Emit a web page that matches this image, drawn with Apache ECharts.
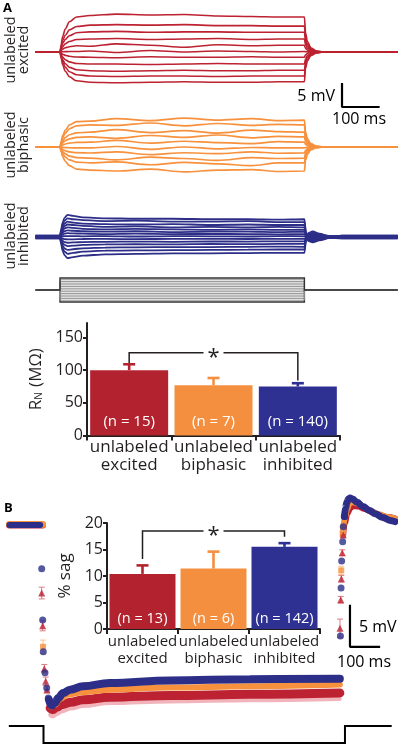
<!DOCTYPE html>
<html>
<head>
<meta charset="utf-8">
<script src="https://cdn.jsdelivr.net/npm/echarts@6.0.0/dist/echarts.min.js"></script>
<style>
  html, body { margin: 0; padding: 0; background: #fff; }
  #fig { width: 398px; height: 745px; }
</style>
</head>
<body>
<div id="fig"></div>
<script>
// ---- panel A : voltage traces (ms, mV) ----
var traceTimesA = [-65, 0, 3, 7, 14, 25, 44, 80, 150, 240, 330, 420, 510, 580, 650, 653, 658, 667, 682, 700, 898];
var excitedTraces = [
  [0, 0, 1.5, 3.2, 4.8, 6.3, 7.3, 7.6, 7.9, 7.7, 7.8, 7.5, 7.4, 7.3, 7.3, 4.0, 2.2, 0.9, 0.2, 0, 0],
  [0, 0, 1.1, 2.4, 3.5, 4.6, 5.3, 5.6, 5.7, 5.6, 5.7, 5.5, 5.5, 5.4, 5.4, 3.0, 1.6, 0.65, 0.15, 0, 0],
  [0, 0, 0.8, 1.8, 2.6, 3.4, 4.0, 4.2, 4.3, 4.1, 4.2, 4.2, 4.1, 4.1, 4.1, 2.2, 1.2, 0.5, 0.1, 0, 0],
  [0, 0, 0.55, 1.1, 1.7, 2.2, 2.6, 2.7, 2.8, 2.6, 2.7, 2.8, 2.6, 2.7, 2.7, 1.5, 0.8, 0.3, 0.08, 0, 0],
  [0, 0, 0.3, 0.6, 0.9, 1.1, 1.3, 1.2, 1.7, 1.4, 1.0, 1.5, 1.3, 1.4, 1.4, 0.75, 0.4, 0.16, 0.04, 0, 0],
  [0, 0, 0.02, 0.05, 0.07, 0.09, 0.1, 0.2, -0.1, 0.3, 0, 0.2, 0.1, 0, 0.1, 0.05, 0.03, 0.01, 0, 0, 0],
  [0, 0, -0.22, -0.46, -0.7, -0.9, -1.05, -1.1, -1.2, -1.0, -1.1, -1.1, -1.0, -1.1, -1.1, -0.6, -0.33, -0.13, -0.03, 0, 0],
  [0, 0, -0.5, -1.05, -1.6, -2.05, -2.4, -2.5, -2.5, -2.6, -2.5, -2.4, -2.5, -2.5, -2.5, -1.4, -0.75, -0.3, -0.08, 0, 0],
  [0, 0, -0.78, -1.64, -2.46, -3.2, -3.7, -3.9, -4.0, -3.9, -3.8, -3.9, -3.9, -3.8, -3.8, -2.1, -1.14, -0.46, -0.11, 0, 0],
  [0, 0, -1.0, -2.1, -3.15, -4.1, -4.75, -5.0, -5.1, -5.0, -5.0, -5.1, -5.0, -5.0, -5.0, -2.75, -1.5, -0.6, -0.15, 0, 0],
  [0, 0, -1.26, -2.65, -4.0, -5.15, -6.0, -6.3, -6.4, -6.3, -6.2, -6.3, -6.3, -6.2, -6.2, -3.4, -1.86, -0.75, -0.19, 0, 0]
];
var biphasicTraces = [
  [0, 0, 1.1, 2.35, 3.5, 4.6, 5.3, 5.4, 5.9, 5.5, 6.0, 5.6, 5.9, 5.5, 5.6, 3.1, 1.7, 0.7, 0.15, 0, 0],
  [0, 0, 0.9, 1.9, 2.9, 3.8, 4.4, 4.6, 4.5, 5.0, 4.4, 4.9, 4.5, 4.7, 4.6, 2.5, 1.4, 0.55, 0.12, 0, 0],
  [0, 0, 0.62, 1.3, 1.95, 2.55, 2.95, 3.1, 3.6, 3.0, 3.4, 2.9, 3.5, 3.2, 3.1, 1.7, 0.93, 0.37, 0.09, 0, 0],
  [0, 0, 0.42, 0.88, 1.3, 1.7, 2.0, 2.1, 1.8, 2.4, 2.0, 2.5, 1.9, 2.2, 2.1, 1.15, 0.63, 0.25, 0.06, 0, 0],
  [0, 0, 0.2, 0.42, 0.63, 0.82, 0.95, 1.0, 1.4, 0.8, 1.2, 0.9, 0.7, 1.1, 1.0, 0.55, 0.3, 0.12, 0.03, 0, 0],
  [0, 0, -0.04, -0.08, -0.12, -0.16, -0.2, -0.2, 0.1, -0.5, 0, -0.4, -0.1, -0.2, -0.2, -0.1, -0.06, -0.02, 0, 0, 0],
  [0, 0, -0.25, -0.52, -0.79, -1.02, -1.19, -1.25, -1.0, -1.6, -1.2, -1.4, -1.0, -1.3, -1.25, -0.7, -0.38, -0.15, -0.04, 0, 0],
  [0, 0, -0.46, -0.97, -1.45, -1.9, -2.2, -2.3, -2.7, -2.1, -2.4, -2.8, -2.2, -2.4, -2.3, -1.27, -0.69, -0.28, -0.07, 0, 0],
  [0, 0, -0.66, -1.4, -2.1, -2.7, -3.15, -3.3, -3.1, -3.7, -3.2, -3.5, -3.9, -3.3, -3.3, -1.8, -1.0, -0.4, -0.1, 0, 0],
  [0, 0, -0.96, -2.0, -3.0, -3.9, -4.6, -4.8, -5.0, -4.6, -5.2, -4.8, -4.7, -5.1, -5.0, -2.75, -1.5, -0.6, -0.15, 0, 0]
];
var inhibitedTimes = [-65, 0, 3, 7, 12, 20, 35, 60, 120, 200, 300, 400, 500, 580, 650, 654, 660, 672, 690, 715, 750, 898];
var inhibitedTraces = [
  [0.3, 0.3, 1.6, 3.0, 4.0, 4.6, 4.4, 4.1, 3.9, 3.8, 3.8, 3.7, 3.7, 3.6, 3.7, 1.0, -0.8, -1.1, -0.7, -0.25, 0.3, 0.3],
  [-0.2, -0.2, 1.4, 2.5, 3.4, 3.9, 3.7, 3.5, 3.3, 3.4, 3.2, 3.2, 3.3, 3.1, 3.1, 0.9, -0.7, -0.95, -0.6, -0.2, -0.2, -0.2],
  [0.1, 0.1, 1.1, 2.1, 2.8, 3.2, 3.0, 2.8, 2.7, 2.6, 2.7, 2.5, 2.6, 2.5, 2.5, 0.7, -0.55, -0.8, -0.5, -0.15, 0.1, 0.1],
  [-0.3, -0.3, 0.9, 1.7, 2.3, 2.6, 2.5, 2.3, 2.1, 2.2, 2.0, 2.1, 2.0, 2.1, 2.0, 0.55, -0.45, -0.65, -0.4, -0.12, -0.3, -0.3],
  [0.25, 0.25, 0.7, 1.3, 1.8, 2.0, 1.9, 1.7, 1.6, 1.7, 1.6, 1.5, 1.6, 1.5, 1.5, 0.45, -0.35, -0.5, -0.3, -0.1, 0.25, 0.25],
  [-0.1, -0.1, 0.5, 0.9, 1.2, 1.4, 1.3, 1.2, 1.1, 1.2, 1.0, 1.1, 1.1, 1.0, 1.1, 0.3, -0.25, -0.35, -0.2, -0.07, -0.1, -0.1],
  [0.2, 0.2, 0.3, 0.5, 0.7, 0.8, 0.75, 0.7, 0.6, 0.7, 0.6, 0.65, 0.6, 0.55, 0.6, 0.17, -0.14, -0.2, -0.12, -0.04, 0.2, 0.2],
  [-0.25, -0.25, 0.07, 0.13, 0.18, 0.2, 0.2, 0.15, 0.2, 0.1, 0.2, 0.15, 0.1, 0.2, 0.15, 0.05, -0.03, -0.05, -0.03, 0, -0.25, -0.25],
  [0.05, 0.05, -0.17, -0.33, -0.44, -0.5, -0.48, -0.42, -0.4, -0.45, -0.38, -0.4, -0.42, -0.38, -0.4, -0.11, 0.09, 0.12, 0.08, 0.03, 0.05, 0.05],
  [0.3, 0.3, -0.42, -0.8, -1.05, -1.2, -1.14, -1.05, -1.0, -0.95, -1.0, -0.92, -0.95, -0.9, -0.92, -0.26, 0.2, 0.3, 0.18, 0.06, 0.3, 0.3],
  [-0.15, -0.15, -0.66, -1.25, -1.65, -1.9, -1.8, -1.65, -1.55, -1.5, -1.55, -1.45, -1.5, -1.45, -1.45, -0.42, 0.33, 0.46, 0.28, 0.1, -0.15, -0.15],
  [0.2, 0.2, -0.95, -1.8, -2.35, -2.7, -2.55, -2.35, -2.2, -2.15, -2.1, -2.1, -2.05, -2.0, -2.05, -0.6, 0.46, 0.65, 0.4, 0.13, 0.2, 0.2],
  [-0.3, -0.3, -1.2, -2.3, -3.05, -3.5, -3.3, -3.05, -2.85, -2.8, -2.75, -2.7, -2.65, -2.6, -2.6, -0.76, 0.6, 0.85, 0.52, 0.17, -0.3, -0.3],
  [0.1, 0.1, -1.5, -2.9, -3.8, -4.4, -4.2, -3.9, -3.6, -3.5, -3.4, -3.4, -3.35, -3.3, -3.3, -0.95, 0.8, 1.15, 0.7, 0.22, 0.1, 0.1]
];
// current steps (pA) used for panel A, step from 0 to 650 ms
var stepLevelsA = [-70, -60, -50, -40, -30, -20, -10, 0, 10, 20, 30, 40, 50, 60, 70];
var stepWindowA = [0, 650];

// ---- bar charts ----
var groups = ['unlabeled\nexcited', 'unlabeled\nbiphasic', 'unlabeled\ninhibited'];
var rnMean = [100, 77, 75];
var rnErrTop = [109, 88, 80];
var rnN = ['(n = 15)', '(n = 7)', '(n = 140)'];
var rnBracket = [0, 2, 111, 126.5, 84];   // from, to, left leg end, top, right leg end
var sagMean = [10.4, 11.4, 15.5];
var sagErrTop = [12.0, 14.6, 16.2];
var sagN = ['(n = 13)', '(n = 6)', '(n = 142)'];
var sagBracket = [0, 2, 13.2, 18.5, 17.4];

// ---- panel B : averaged sag responses (ms, mV) ----
var sagPreT = [-113, -3];
var sagPreV = [0, 0];
var blueFallT = [-6, -2.7, -0.7, 5, 10.6, 15.9];
var blueFallV = [-5.2, -11.3, -15.1, -17.6, -19.4, -20.6];
var redFallT = [-6, -2.7, 2.7, 7.3, 11.6];
var redFallV = [-8.1, -12.0, -17.1, -18.6, -19.6];
var redFallErr = [0.7, 0.6, 0.5, 0.5, 0.4];
var orangeFallT = [-1.5];
var orangeFallV = [-14.5];
var orangeFallErr = [0.8];
var blueBandT = [18, 27, 38, 49, 65, 88, 131, 220, 420, 685, 983];
var blueBandV = [-20.8, -21.5, -21.2, -20.6, -20.0, -19.6, -19.2, -18.8, -18.5, -18.35, -18.3];
var orangeBandT = [25, 38, 55, 80, 131, 220, 420, 685, 983];
var orangeBandV = [-21.6, -21.4, -20.7, -20.2, -19.9, -19.6, -19.35, -19.2, -19.0];
var redBandT = [22, 30, 45, 60, 90, 131, 220, 420, 685, 983];
var redBandV = [-21.8, -22.0, -21.7, -21.4, -21.1, -20.8, -20.5, -20.3, -20.15, -20.0];
var redBandSem = [0.8, 0.8, 0.8, 0.8, 0.75, 0.75, 0.7, 0.7, 0.7, 0.7];
var blueRiseT = [985, 987, 989, 992.4, 994.4, 998];
var blueRiseV = [-13.2, -7.5, -4.3, -2.0, -0.2, 1.0];
var redRiseT = [983.5, 986, 988, 991, 994];
var redRiseV = [-12.3, -8.9, -6.4, -3.3, -1.2];
var redRiseErr = [1.1, 0.4, 0.4, 0.35, 0.3];
var orangeRiseT = [987.5, 992.4];
var orangeRiseV = [-5.4, -1.0];
var orangeRiseErr = [0.5, 0.4];
var blueReboundT = [998, 1002, 1006, 1012, 1017, 1025, 1040, 1060, 1080, 1100, 1125, 1150, 1166];
var blueReboundV = [1.0, 2.0, 2.7, 3.1, 3.2, 3.1, 2.7, 2.2, 1.75, 1.35, 0.9, 0.55, 0.4];
var orangeReboundT = [993, 1000, 1008, 1016, 1025, 1040, 1060, 1085, 1110, 1140, 1166];
var orangeReboundV = [-0.8, 1.0, 2.0, 2.6, 2.75, 2.6, 2.2, 1.7, 1.3, 0.95, 0.75];
var redReboundT = [994, 1000, 1008, 1018, 1028, 1045, 1065, 1090, 1115, 1140, 1166];
var redReboundV = [-1.2, 0.3, 1.4, 2.0, 2.25, 2.2, 1.9, 1.55, 1.2, 0.95, 0.8];
var stepWindowB = [0, 1000];

var INK = '#231f20';
var RED = '#bc2231', ORANGE = '#f7913d', BLUE = '#2c2e87';
var barColors = ['#b3232f', '#f58f40', '#2e3192'];
var FONT = '"Open Sans", "Noto Sans", sans-serif';

function zip(ts, vs) { return ts.map(function (t, k) { return [t, vs[k]]; }); }

var series = [];

function addTraces(times, rows, color, grid, width) {
  rows.forEach(function (row) {
    series.push({
      type: 'line', xAxisIndex: grid, yAxisIndex: grid, symbol: 'none',
      smooth: 0.3, smoothMonotone: 'x', silent: true,
      data: zip(times, row),
      lineStyle: { color: color, width: width }
    });
  });
}
addTraces(traceTimesA, excitedTraces, RED, 0, 1.6);
addTraces(traceTimesA, biphasicTraces, ORANGE, 1, 1.7);
addTraces(inhibitedTimes, inhibitedTraces, BLUE, 2, 1.8);

// current step commands drawn as rectangular pulses (start, end, level)
function pulseSeries(grid, window, levels, tMin, tMax, colorFn, widthFn) {
  series.push({
    type: 'custom', xAxisIndex: grid, yAxisIndex: grid, silent: true, z: 3,
    encode: { x: [0, 1], y: 2 },
    data: levels.map(function (lv) { return [window[0], window[1], lv]; }),
    renderItem: function (params, api) {
      var t0 = api.value(0), t1 = api.value(1), lv = api.value(2);
      var pts = [[tMin, 0], [t0, 0], [t0, lv], [t1, lv], [t1, 0], [tMax, 0]].map(function (p) { return api.coord(p); });
      return { type: 'polyline', shape: { points: pts },
        style: { stroke: colorFn(lv), lineWidth: widthFn(lv), fill: null, lineJoin: 'miter' } };
    }
  });
}
pulseSeries(3, stepWindowA, stepLevelsA, -65, 898,
  function (lv) { return Math.abs(lv) === 70 ? '#333' : '#8a8a8a'; },
  function (lv) { return Math.abs(lv) === 70 ? 1.4 : 0.9; });

// scale bars (5 mV / 100 ms)
var scaleMv = 5, scaleMs = 100;
series.push({
  type: 'line', xAxisIndex: 0, yAxisIndex: 0, symbol: 'none', silent: true, smooth: false,
  data: [[750, -11.46 + scaleMv], [750, -11.46], [750 + scaleMs, -11.46]],
  lineStyle: { color: '#000', width: 2.2 }
});
series.push({
  type: 'line', xAxisIndex: 6, yAxisIndex: 6, symbol: 'none', silent: true, smooth: false,
  data: [[1016.6, -14.5 + scaleMv], [1016.6, -14.5], [1016.6 + scaleMs, -14.5]],
  lineStyle: { color: '#000', width: 2.2 }
});

// bars
function errRender(colors) {
  return function (params, api) {
    var base = api.coord([api.value(0), api.value(1)]);
    var top = api.coord([api.value(0), api.value(2)]);
    var c = colors[params.dataIndex];
    var st = { stroke: c, lineWidth: 2.6 };
    return { type: 'group', children: [
      { type: 'line', shape: { x1: top[0], y1: base[1], x2: top[0], y2: top[1] }, style: st },
      { type: 'line', shape: { x1: top[0] - 6, y1: top[1], x2: top[0] + 6, y2: top[1] }, style: st }
    ] };
  };
}
function bracketRender(params, api) {
  var a = api.coord([api.value(0), api.value(3)]);
  var b = api.coord([api.value(1), api.value(3)]);
  var la = api.coord([api.value(0), api.value(2)]);
  var lb = api.coord([api.value(1), api.value(4)]);
  var mid = (a[0] + b[0]) / 2, gap = 10;
  var st = { stroke: INK, lineWidth: 1.5, fill: null };
  return { type: 'group', children: [
    { type: 'polyline', shape: { points: [la, a, [mid - gap, a[1]]] }, style: st },
    { type: 'polyline', shape: { points: [[mid + gap, b[1]], b, lb] }, style: st },
    { type: 'text', x: mid, y: a[1] + 5, style: { text: '*', fontSize: 22, fontFamily: FONT, fill: INK, align: 'center', verticalAlign: 'middle' } }
  ] };
}
function addBars(grid, means, errTop, nLabels, bracket, barWidth, dist, nSize) {
  series.push({
    type: 'bar', xAxisIndex: grid, yAxisIndex: grid, barWidth: barWidth, silent: true,
    data: means.map(function (v, i) { return { value: v, itemStyle: { color: barColors[i] } }; }),
    label: { show: true, position: 'insideBottom', distance: dist, color: '#fff', fontSize: nSize, fontFamily: FONT,
      formatter: function (p) { return nLabels[p.dataIndex]; } }
  });
  series.push({
    type: 'custom', xAxisIndex: grid, yAxisIndex: grid, silent: true, z: 1,
    renderItem: errRender(barColors),
    encode: { x: 0, y: [1, 2] },
    data: means.map(function (v, i) { return [i, v, errTop[i]]; })
  });
  series.push({
    type: 'custom', xAxisIndex: grid, yAxisIndex: grid, silent: true,
    renderItem: bracketRender, encode: { x: [0, 1], y: [2, 3, 4] },
    data: [bracket]
  });
}
addBars(4, rnMean, rnErrTop, rnN, rnBracket, 78, 6, 15);
addBars(5, sagMean, sagErrTop, sagN, sagBracket, 66, 3, 14.5);

// panel B traces
function band(ts, vs, color, width, z) {
  series.push({
    type: 'line', xAxisIndex: 6, yAxisIndex: 6, symbol: 'none', smooth: 0.4, smoothMonotone: 'x',
    silent: true, z: z, data: zip(ts, vs), lineStyle: { color: color, width: width, cap: 'round' }
  });
}
function points(ts, vs, symbol, size, color, z) {
  series.push({
    type: 'scatter', xAxisIndex: 6, yAxisIndex: 6, symbol: symbol, symbolSize: size, silent: true, z: z,
    data: zip(ts, vs), itemStyle: { color: color }
  });
}
function pointErr(ts, vs, es, color, z) {
  series.push({
    type: 'custom', xAxisIndex: 6, yAxisIndex: 6, silent: true, z: z,
    encode: { x: 0, y: [1, 2] },
    data: ts.map(function (t, k) { return [t, vs[k] - es[k], vs[k] + es[k]]; }),
    renderItem: function (params, api) {
      var lo = api.coord([api.value(0), api.value(1)]);
      var hi = api.coord([api.value(0), api.value(2)]);
      var st = { stroke: color, lineWidth: 1 };
      return { type: 'group', children: [
        { type: 'line', shape: { x1: lo[0], y1: lo[1], x2: hi[0], y2: hi[1] }, style: st },
        { type: 'line', shape: { x1: lo[0] - 3, y1: lo[1], x2: lo[0] + 3, y2: lo[1] }, style: st },
        { type: 'line', shape: { x1: hi[0] - 3, y1: hi[1], x2: hi[0] + 3, y2: hi[1] }, style: st }
      ] };
    }
  });
}
// pre-step plateau
band(sagPreT, sagPreV, RED, 7, 2);
band(sagPreT, sagPreV.map(function (v) { return v + 0.05; }), ORANGE, 7, 3);
band([sagPreT[0], sagPreT[1] - 8], sagPreV, BLUE, 6, 4);
// recovery bands
band(redBandT, redBandV.map(function (v, k) { return v - redBandSem[k]; }), '#f0b4ba', 4, 2);
band(redBandT, redBandV, RED, 9, 2);
band(orangeBandT, orangeBandV, ORANGE, 6, 3);
band(blueBandT, blueBandV, BLUE, 8, 4);
// rebound
band(redReboundT, redReboundV, RED, 6, 2);
band(orangeReboundT, orangeReboundV, ORANGE, 6, 3);
band(blueReboundT, blueReboundV, BLUE, 7, 4);
// sparse samples in fast transitions
pointErr(redFallT, redFallV, redFallErr, '#e07a84', 5);
pointErr(redRiseT, redRiseV, redRiseErr, '#e07a84', 5);
pointErr(orangeFallT, orangeFallV, orangeFallErr, '#f9c08f', 5);
pointErr(orangeRiseT, orangeRiseV, orangeRiseErr, '#f9c08f', 5);
points(orangeFallT, orangeFallV, 'rect', 6, ORANGE, 6);
points(orangeRiseT, orangeRiseV, 'rect', 6, ORANGE, 6);
points(redFallT, redFallV, 'triangle', 7, RED, 6);
points(redRiseT, redRiseV, 'triangle', 7, RED, 6);
points(blueFallT, blueFallV, 'circle', 7, BLUE, 7);
points(blueRiseT, blueRiseV, 'circle', 7, BLUE, 7);

// current step command, panel B
pulseSeries(7, stepWindowB, [-100], -115, 1155,
  function () { return '#000'; }, function () { return 2; });

function hiddenValue(grid, min, max) {
  return { type: 'value', gridIndex: grid, min: min, max: max, show: false };
}
function catAxis(grid, size, lh, margin) {
  return {
    type: 'category', gridIndex: grid, data: groups,
    axisLine: { lineStyle: { color: INK, width: 2 } },
    axisTick: { show: true, length: 5, lineStyle: { color: INK, width: 2 } },
    axisLabel: { color: INK, fontSize: size, lineHeight: lh, margin: margin, fontFamily: FONT, interval: 0 }
  };
}
function barValueAxis(grid, max, ticks, name, gap) {
  return {
    type: 'value', gridIndex: grid, min: 0, max: max,
    axisLine: { show: true, lineStyle: { color: INK, width: 2 } },
    axisTick: { show: true, length: 4, customValues: ticks, lineStyle: { color: INK, width: 2 } },
    axisLabel: { color: INK, fontSize: 16, margin: 4, fontFamily: FONT, customValues: ticks },
    splitLine: { show: false },
    name: name, nameLocation: 'middle', nameGap: gap,
    nameTextStyle: { color: INK, fontSize: 17, fontFamily: FONT,
      rich: { r: { fontSize: 17, fontFamily: FONT, color: INK },
              s: { fontSize: 10, fontFamily: FONT, color: INK, verticalAlign: 'bottom', padding: [0, 1, 0, 0] } } }
  };
}

var option = {
  animation: false,
  textStyle: { fontFamily: FONT },
  grid: [
    { left: 35.56, width: 362.1, top: 8.8, height: 100.8 },
    { left: 35.56, width: 362.1, top: 103.8, height: 86.4 },
    { left: 35.56, width: 362.1, top: 193.8, height: 86.4 },
    { left: 35.56, width: 362.1, top: 277.14, height: 25.71 },
    { left: 87, width: 253, top: 323.1, height: 112.4 },
    { left: 107, width: 213, top: 523, height: 106 },
    { left: 7.32, width: 388.9, top: 474.6, height: 268.8 },
    { left: 7.32, width: 388.9, top: 726, height: 17 }
  ],
  xAxis: [
    hiddenValue(0, -65, 898), hiddenValue(1, -65, 898), hiddenValue(2, -65, 898), hiddenValue(3, -65, 898),
    catAxis(4, 17, 18, 3), catAxis(5, 15, 17, 4),
    hiddenValue(6, -120, 1170), hiddenValue(7, -120, 1170)
  ],
  yAxis: [
    hiddenValue(0, -12, 9), hiddenValue(1, -9, 9), hiddenValue(2, -9, 9), hiddenValue(3, -75, 75),
    barValueAxis(4, 172, [0, 50, 100, 150], '{r|R}{s|N}{r| (MΩ)}', 34),
    barValueAxis(5, 20, [0, 5, 10, 15, 20], '% sag', 27),
    hiddenValue(6, -26, 6), hiddenValue(7, -100, 0)
  ],
  graphic: [
    { type: 'text', x: 3, y: 2, style: { text: 'A', fontSize: 13, fontWeight: 'bold', fontFamily: FONT, fill: '#000', align: 'left', verticalAlign: 'top' } },
    { type: 'text', x: 4, y: 502, style: { text: 'B', fontSize: 13, fontWeight: 'bold', fontFamily: FONT, fill: '#000', align: 'left', verticalAlign: 'top' } },
    { type: 'text', x: 17.5, y: 50, rotation: Math.PI / 2, style: { text: 'unlabeled\nexcited', fontSize: 14.5, lineHeight: 13.5, fontFamily: FONT, fill: INK, align: 'center', verticalAlign: 'middle' } },
    { type: 'text', x: 17.5, y: 145, rotation: Math.PI / 2, style: { text: 'unlabeled\nbiphasic', fontSize: 14.5, lineHeight: 13.5, fontFamily: FONT, fill: INK, align: 'center', verticalAlign: 'middle' } },
    { type: 'text', x: 17.5, y: 236, rotation: Math.PI / 2, style: { text: 'unlabeled\ninhibited', fontSize: 14.5, lineHeight: 13.5, fontFamily: FONT, fill: INK, align: 'center', verticalAlign: 'middle' } },
    { type: 'text', x: 335, y: 96, style: { text: '5 mV', fontSize: 16, fontFamily: FONT, fill: '#000', align: 'right', verticalAlign: 'middle' } },
    { type: 'text', x: 359, y: 119.5, style: { text: '100 ms', fontSize: 16, fontFamily: FONT, fill: '#000', align: 'center', verticalAlign: 'middle' } },
    { type: 'text', x: 359, y: 627, style: { text: '5 mV', fontSize: 16, fontFamily: FONT, fill: '#000', align: 'left', verticalAlign: 'middle' } },
    { type: 'text', x: 364, y: 662, style: { text: '100 ms', fontSize: 16, fontFamily: FONT, fill: '#000', align: 'center', verticalAlign: 'middle' } }
  ],
  series: series
};

var chart = echarts.init(document.getElementById('fig'), null, { renderer: 'canvas' });
chart.setOption(option);
</script>
</body>
</html>
